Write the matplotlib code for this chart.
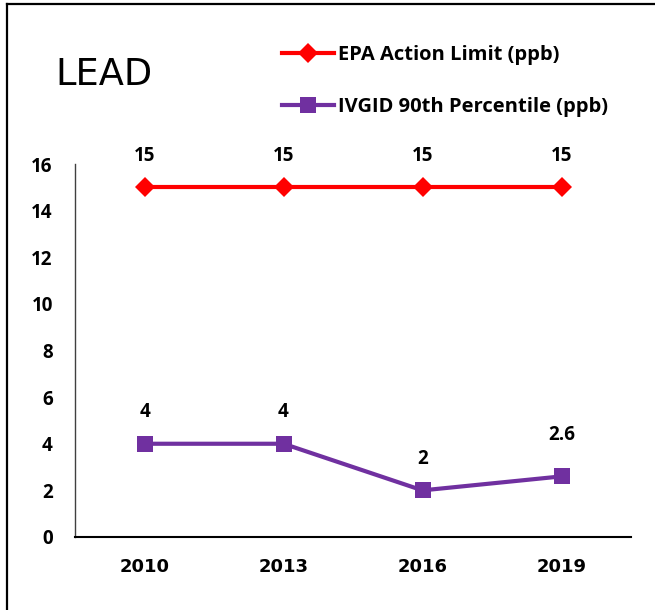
import matplotlib
matplotlib.use("Agg")
import matplotlib.pyplot as plt
from matplotlib.lines import Line2D

years = ["2010", "2013", "2016", "2019"]
epa_limit = [15, 15, 15, 15]
ivgid_90th = [4, 4, 2, 2.6]
ivgid_labels = ["4", "4", "2", "2.6"]
epa_labels = ["15", "15", "15", "15"]
yticks = [0, 2, 4, 6, 8, 10, 12, 14, 16]

RED = "#FF0000"
PURPLE = "#7030A0"
FONT = ["Open Sans", "DejaVu Sans"]

fig = plt.figure(figsize=(6.55, 6.10), dpi=100)
ax = fig.add_axes([75/655, (610-537)/610, (631-75)/655, (537-164)/610])

x = [i + 0.5 for i in range(len(years))]
l1, = ax.plot(x, epa_limit, color=RED, lw=3, marker="D", markersize=10,
              markeredgewidth=0, label="EPA Action Limit (ppb)")
l2, = ax.plot(x, ivgid_90th, color=PURPLE, lw=3, marker="s", markersize=12,
              markeredgewidth=0, label="IVGID 90th Percentile (ppb)")

ivgid_offsets = [19, 19, 19, 26]
for xi, v, t in zip(x, epa_limit, epa_labels):
    ax.annotate(t, (xi, v), xytext=(0, 19), textcoords="offset points",
                ha="center", va="baseline", fontsize=13.5, fontweight="bold", family=FONT)
for xi, v, t, off in zip(x, ivgid_90th, ivgid_labels, ivgid_offsets):
    ax.annotate(t, (xi, v), xytext=(0, off), textcoords="offset points",
                ha="center", va="baseline", fontsize=13.5, fontweight="bold", family=FONT)

ax.set_xlim(0, 4)
ax.set_ylim(0, 16)
ax.set_yticks(yticks)
ax.set_yticklabels([str(v) for v in yticks], fontsize=13.5, fontweight="bold", family=FONT)
ax.set_xticks(x)
ax.set_xticklabels(years, fontsize=13, fontweight="bold", family="DejaVu Sans")
ax.tick_params(axis="both", length=0)
ax.tick_params(axis="y", pad=16)
ax.tick_params(axis="x", pad=15)
for s in ["top", "right"]:
    ax.spines[s].set_visible(False)
ax.spines["left"].set_color("#404040")
ax.spines["left"].set_linewidth(1.0)
ax.spines["bottom"].set_color("black")
ax.spines["bottom"].set_linewidth(1.5)

fig.text(55/655, 1 - 85/610, "LEAD", fontsize=26.5, fontweight="normal",
         family="DejaVu Sans", va="baseline", ha="left")

leg = fig.legend(handles=[l1, l2], loc="upper left", bbox_to_anchor=(264/655, 1 - 27/610),
                 frameon=False, handlelength=2.6, handletextpad=0.15, labelspacing=1.6,
                 prop={"family": FONT, "weight": "bold", "size": 14.5})

fig.add_artist(Line2D([7/655, 7/655], [0, 1 - 4/610], transform=fig.transFigure,
                      color="black", lw=1.6))
fig.add_artist(Line2D([7/655, 1], [1 - 4/610, 1 - 4/610], transform=fig.transFigure,
                      color="black", lw=1.6))

fig.savefig("out.png", dpi=100)
